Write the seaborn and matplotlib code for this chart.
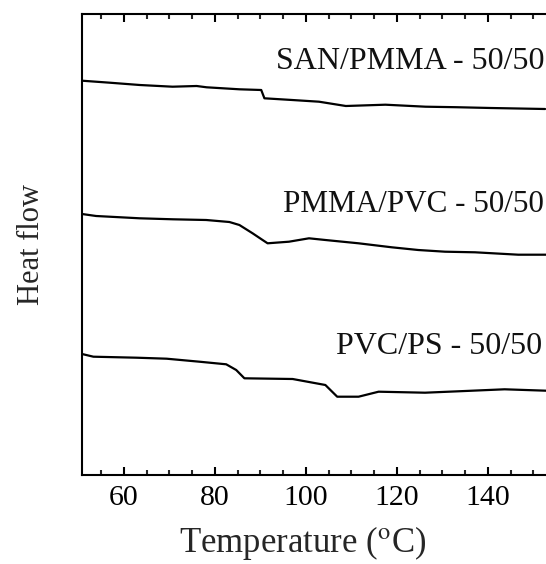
import numpy as np
import pandas as pd
import matplotlib
matplotlib.use("Agg")
import matplotlib.pyplot as plt
import seaborn as sns
from matplotlib.ticker import MultipleLocator

# Data (temperature in °C, heat flow in arbitrary units, offset curves)
san_T = [50.8, 56.9, 63.5, 70.7, 76.0, 78.2, 85.4, 90.2, 90.9, 97.0, 102.9, 108.8, 117.5, 126.3, 133.0, 140.7, 152.6]
san_H = [394.3, 392.3, 390.0, 388.3, 389.0, 387.7, 385.7, 385.0, 376.7, 375.0, 373.3, 369.0, 370.3, 368.3, 367.8, 367.0, 366.0]

pmma_T = [50.8, 53.9, 63.5, 70.8, 78.1, 83.2, 85.4, 88.3, 90.5, 91.6, 96.3, 100.7, 104.3, 111.6, 118.9, 124.7, 130.6, 137.2, 146.7, 152.8]
pmma_H = [261.0, 259.0, 256.7, 255.7, 255.0, 253.0, 250.0, 241.7, 235.0, 231.7, 233.3, 236.7, 235.0, 231.7, 227.7, 225.0, 223.3, 222.7, 220.3, 220.3]

pvc_T = [50.8, 53.3, 62.8, 69.4, 76.6, 82.5, 84.7, 86.5, 97.1, 104.3, 106.9, 111.6, 116.0, 126.2, 133.5, 143.7, 152.8]
pvc_H = [121.0, 118.3, 117.3, 116.3, 113.3, 110.7, 105.0, 96.7, 96.0, 90.0, 78.3, 78.3, 83.3, 82.3, 83.7, 85.7, 84.3]

labels = ["SAN/PMMA - 50/50", "PMMA/PVC - 50/50", "PVC/PS - 50/50"]
label_T = [93.5, 95.0, 106.6]
label_H = [406.0, 263.3, 121.3]

xticks = [60, 80, 100, 120, 140]

label_sizes = [23, 22.4, 23]

sns.set_theme(style="ticks")
plt.rcParams['font.family'] = ['Liberation Serif', 'DejaVu Serif']
plt.rcParams['mathtext.fontset'] = 'stix'

fig = plt.figure(figsize=(5.46, 5.64), dpi=100)
ax = fig.add_axes([82/546, (564-475)/564, (546-82)/546, (475-14)/564])

for T, H in [(san_T, san_H), (pmma_T, pmma_H), (pvc_T, pvc_H)]:
    df = pd.DataFrame({"T": T, "H": H})
    sns.lineplot(data=df, x="T", y="H", ax=ax, color="black", linewidth=1.6, sort=False)

for lab, tx, ty, fs in zip(labels, label_T, label_H, label_sizes):
    ax.text(tx, ty, lab, fontsize=fs, ha="left", va="baseline", color="#111111")

ax.set_xlim(50.8, 152.8)
ax.set_ylim(0, 461)
ax.set_xticks(xticks)
ax.xaxis.set_minor_locator(MultipleLocator(5))
ax.set_yticks([])
ax.tick_params(axis="x", which="major", direction="in", length=6, width=1.5,
               top=True, bottom=True, labelsize=21.5, pad=7, colors="black")
ax.tick_params(axis="x", which="minor", direction="in", length=3.5, width=1.5,
               top=True, bottom=True)
for s in ["left", "top", "bottom"]:
    ax.spines[s].set_linewidth(1.5)
    ax.spines[s].set_color("black")
ax.spines["right"].set_visible(False)

ax.set_xlabel("Temperature ($^{\\rm o}$C)", fontsize=25, labelpad=12)
ax.xaxis.set_label_coords(0.476, -0.107)
ax.set_ylabel("Heat flow", fontsize=22, labelpad=26)

fig.savefig("out.png", dpi=100)
